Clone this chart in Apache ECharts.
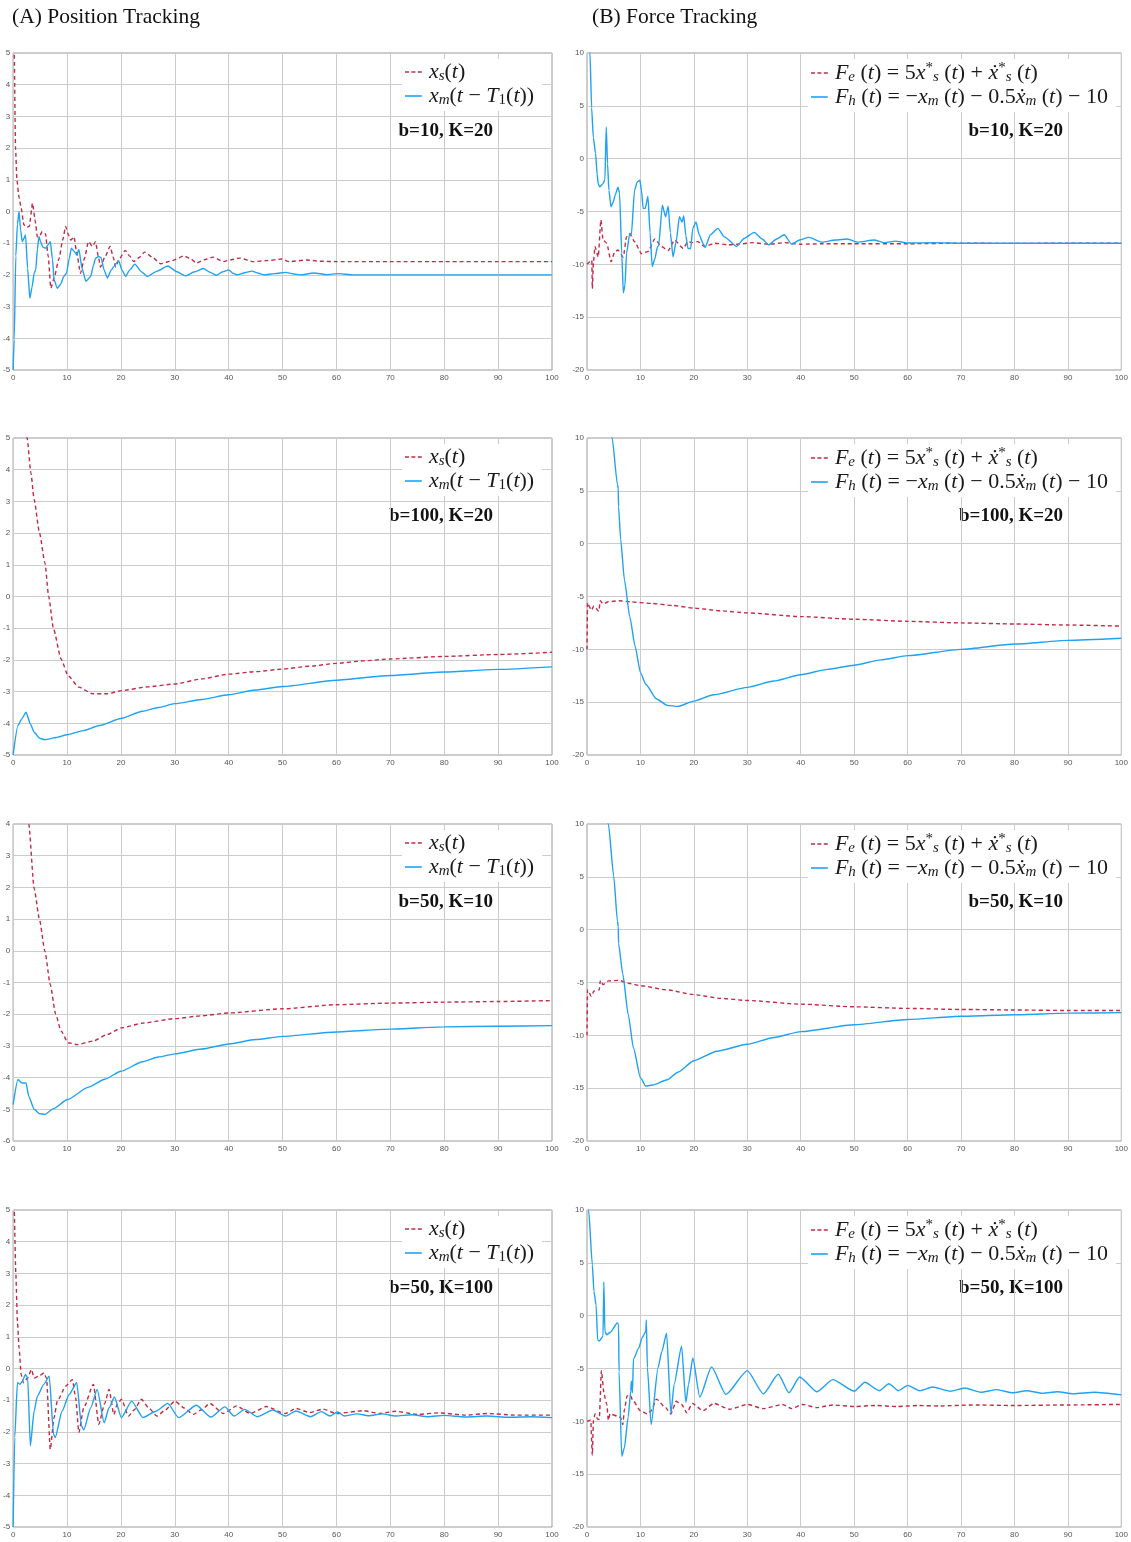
<!DOCTYPE html>
<html>
<head>
<meta charset="utf-8">
<title>Position and Force Tracking</title>
<script src="https://cdn.jsdelivr.net/npm/echarts@6/dist/echarts.min.js"></script>
<style>
  html, body { margin: 0; padding: 0; background: #fff; }
  #chart { width: 1131px; height: 1542px; }
</style>
</head>
<body>
<div id="chart"></div>
<script>
// ---- data: [t, value] ----
const xRange = [0, 100, 10];

// (A) position tracking
const pos1Xs = [[0,5.6],[0.2,5.0],[0.45,2.0],[0.7,1.0],[1.1,0.45],[1.5,0.1],[2,-0.42],[2.5,-0.5],[3,-0.47],[3.6,0.26],[4.1,-0.3],[4.5,-0.8],[5,-0.75],[5.4,-0.63],[6,-0.7],[6.5,-1.4],[7,-2.42],[7.6,-2.1],[8.5,-1.5],[9.2,-0.9],[9.75,-0.47],[10.3,-0.75],[10.7,-0.9],[11.3,-0.8],[11.8,-1.3],[12.5,-1.95],[13.2,-1.5],[14,-0.95],[14.7,-1.1],[15.3,-0.95],[15.8,-1.4],[16.2,-1.75],[17,-1.45],[18,-1.1],[18.6,-1.45],[19,-1.75],[19.7,-1.5],[20.8,-1.23],[21.6,-1.4],[22.4,-1.58],[23.4,-1.45],[24.4,-1.28],[25.9,-1.45],[27.4,-1.65],[29.5,-1.55],[31.7,-1.4],[33,-1.5],[34,-1.63],[35.5,-1.52],[37.1,-1.44],[39,-1.58],[40.5,-1.52],[42,-1.47],[44.6,-1.58],[47,-1.55],[49.9,-1.5],[51.2,-1.58],[54.5,-1.53],[57,-1.57],[60,-1.58],[70,-1.58],[80,-1.58],[90,-1.58],[100,-1.58]];
const pos1Xm = [[0,-5],[0.2,-4.05],[0.5,-1.4],[0.8,-0.4],[1.1,0],[1.4,-0.6],[1.7,-0.95],[2.0,-0.85],[2.3,-0.74],[2.7,-1.8],[3.1,-2.74],[3.5,-2.4],[3.9,-1.95],[4.2,-1.84],[4.5,-1.2],[4.8,-0.79],[5.1,-0.95],[5.5,-1.12],[6,-1.16],[6.5,-1.05],[6.9,-0.95],[7.3,-1.5],[7.6,-2.16],[8.2,-2.42],[8.8,-2.3],[9.4,-2.05],[9.9,-1.95],[10.4,-1.5],[10.8,-1.16],[11.3,-1.25],[11.8,-1.37],[12.2,-1.2],[12.8,-1.8],[13.5,-2.2],[14.4,-2.05],[14.9,-1.7],[15.3,-1.47],[15.9,-1.42],[16.3,-1.45],[16.9,-1.85],[17.5,-2.1],[18.2,-1.85],[18.7,-1.74],[19.3,-1.6],[19.6,-1.56],[20.2,-1.85],[20.9,-2.05],[21.6,-1.85],[22.6,-1.66],[23.8,-1.9],[24.9,-2.05],[26.7,-1.88],[28.7,-1.72],[30.4,-1.9],[32,-2.03],[33.7,-1.9],[35.3,-1.8],[36.6,-1.92],[37.7,-2.01],[38.9,-1.9],[40,-1.84],[40.8,-1.95],[41.6,-2.0],[43,-1.93],[44.3,-1.88],[45.5,-1.95],[46.6,-2.0],[48.5,-1.96],[50.6,-1.92],[52,-1.97],[53.2,-2.0],[55.9,-1.94],[58,-1.99],[60.5,-1.96],[63,-2.0],[70,-2.0],[80,-2.0],[90,-2.0],[100,-2.0]];

const pos2Xs = [[0,9],[2.6,5],[3.3,3.9],[3.9,3.06],[4.9,2.0],[5.9,1.07],[6.6,0],[7.5,-1.03],[8.9,-1.97],[10.2,-2.5],[12.2,-2.86],[14.8,-3.07],[17.5,-3.07],[20.1,-2.97],[25,-2.85],[30,-2.76],[35,-2.6],[40,-2.45],[45,-2.37],[50,-2.29],[55,-2.2],[60,-2.11],[65,-2.03],[70,-1.97],[80,-1.89],[90,-1.83],[100,-1.76]];
const pos2Xm = [[0,-5],[0.9,-4.07],[1.6,-3.86],[2.4,-3.65],[3.2,-4.02],[3.9,-4.28],[4.9,-4.47],[5.9,-4.52],[8,-4.45],[10,-4.36],[13,-4.23],[16,-4.07],[20,-3.85],[24,-3.62],[27,-3.5],[30,-3.38],[35,-3.25],[40,-3.1],[45,-2.95],[50,-2.84],[60,-2.64],[70,-2.49],[80,-2.38],[90,-2.3],[100,-2.22]];

const pos3Xs = [[0,9.5],[2.9,4],[3.9,1.97],[4.9,0.98],[5.9,-0.02],[6.9,-1.07],[7.9,-2.0],[8.9,-2.53],[10.2,-2.9],[11.9,-2.96],[14.8,-2.85],[17.5,-2.64],[20.1,-2.43],[24.1,-2.28],[30,-2.14],[35,-2.05],[40,-1.96],[50,-1.83],[60,-1.7],[70,-1.65],[80,-1.62],[90,-1.6],[100,-1.57]];
const pos3Xm = [[0,-4.85],[0.9,-4.06],[1.6,-4.17],[2.4,-4.17],[2.9,-4.59],[3.9,-5.0],[4.9,-5.14],[5.9,-5.16],[7.5,-4.98],[10,-4.7],[14,-4.3],[17,-4.05],[20,-3.8],[24,-3.5],[27,-3.35],[30,-3.25],[35,-3.1],[40,-2.94],[45,-2.8],[50,-2.7],[60,-2.56],[70,-2.47],[80,-2.4],[90,-2.38],[100,-2.36]];

const pos4Xs = [[0,5.6],[0.2,5],[0.5,3],[0.8,1.5],[1.1,0.65],[1.5,-0.19],[1.9,-0.45],[2.7,-0.3],[3.4,-0.03],[3.9,-0.3],[4.8,-0.24],[5.7,-0.14],[6.2,-0.3],[6.9,-2.55],[7.6,-1.55],[8.2,-1.03],[9.75,-0.56],[11,-0.35],[11.6,-0.92],[12.2,-2.02],[13.1,-1.24],[14.9,-0.5],[15.9,-1.76],[17,-1.1],[17.8,-0.66],[18.7,-1.45],[19.3,-1.13],[20.1,-0.97],[21.4,-1.5],[22.5,-1.3],[23.8,-0.97],[25.2,-1.25],[26.7,-1.5],[28.3,-1.3],[30,-1.03],[31.8,-1.25],[33.4,-1.45],[35,-1.3],[36.5,-1.1],[39,-1.42],[41.5,-1.18],[44,-1.42],[47,-1.2],[50.5,-1.42],[52.5,-1.26],[55,-1.39],[57.5,-1.28],[60,-1.42],[65,-1.33],[68,-1.42],[71,-1.35],[75,-1.45],[79,-1.4],[84,-1.47],[88,-1.42],[93,-1.47],[100,-1.47]];
const pos4Xm = [[0,-5],[0.3,-2.17],[0.8,-0.45],[1.3,-0.5],[1.7,-0.4],[2.3,-0.19],[2.7,-0.3],[3.2,-2.44],[3.9,-1.34],[4.5,-0.87],[5.7,-0.5],[6.7,-0.24],[7.5,-2.07],[7.8,-2.18],[9.1,-1.34],[10.4,-0.82],[11.8,-0.45],[12.7,-1.81],[13.1,-1.94],[14.4,-1.24],[15.6,-0.66],[16.9,-1.71],[17.8,-1.24],[18.8,-0.9],[20.1,-1.55],[22,-1.03],[24.1,-1.55],[26.5,-1.35],[28.7,-1.1],[30.7,-1.55],[34,-1.16],[36.7,-1.53],[39.3,-1.21],[41,-1.5],[43,-1.29],[45.3,-1.52],[48.2,-1.31],[50.6,-1.5],[52.5,-1.34],[55.2,-1.52],[57.2,-1.36],[58.8,-1.5],[60.2,-1.37],[61.5,-1.5],[63.8,-1.43],[66,-1.49],[68.5,-1.43],[71,-1.5],[74,-1.46],[77,-1.52],[80,-1.48],[84,-1.53],[88,-1.5],[92,-1.54],[96,-1.52],[100,-1.55]];

// (B) force tracking
const frc1Fe = [[0,-10],[0.55,-9.75],[0.9,-9.6],[1.0,-12.3],[1.2,-9.8],[1.5,-8.3],[2.1,-9.3],[2.6,-5.8],[3.0,-7.7],[3.7,-8.0],[4.5,-9.75],[5.2,-8.8],[5.8,-8.65],[6.8,-9.3],[7.4,-7.4],[8.0,-7.1],[8.9,-7.85],[10.2,-9.0],[11.4,-8.8],[12.7,-7.6],[13.9,-8.3],[15.2,-8.7],[16.4,-7.7],[18,-8.5],[18.9,-7.85],[19.8,-7.95],[20.7,-7.85],[22,-8.3],[23.9,-8.0],[26.3,-8.15],[28.2,-8.1],[31,-7.95],[34,-8.1],[37,-7.95],[40,-8.1],[44,-8.05],[50,-8.05],[60,-8.05],[70,-8.0],[80,-8.02],[90,-8.0],[100,-8.0]];
const frc1Fh = [[0,14],[0.55,10],[0.87,4.8],[1.18,2.0],[1.6,0.5],[1.9,-1.5],[2.1,-2.4],[2.4,-2.67],[3.0,-2.36],[3.35,-2.0],[3.6,3.0],[3.85,-0.5],[4.1,-3.0],[4.5,-4.56],[4.9,-4.1],[5.3,-3.4],[5.8,-2.7],[6.1,-3.3],[6.5,-9],[6.8,-12.7],[7.1,-12.0],[7.4,-8.96],[8.0,-7.07],[8.3,-7.2],[8.9,-3.0],[9.4,-2.2],[9.9,-2.04],[10.2,-3],[10.5,-4.7],[10.9,-4.7],[11.4,-3.55],[11.8,-7],[12.2,-10.2],[12.7,-9.5],[13.2,-8.3],[13.4,-8.25],[14.1,-4.4],[14.7,-5.5],[15.2,-4.5],[15.6,-7],[16.1,-9.3],[16.7,-7.8],[17.3,-5.5],[17.8,-6.0],[18.1,-5.4],[18.5,-7.3],[18.9,-8.5],[19.4,-8.5],[19.8,-6.6],[20.4,-6.0],[21,-7.2],[21.7,-8.0],[22.1,-8.4],[23.1,-7.2],[24.5,-6.6],[25.7,-7.4],[28,-8.3],[29.4,-7.55],[31.3,-6.98],[32.8,-7.6],[34,-8.15],[35.5,-7.6],[36.9,-7.2],[38.3,-8.1],[39.8,-7.7],[41.5,-7.45],[44,-7.9],[46.5,-7.7],[48.7,-7.6],[50.7,-7.9],[53.7,-7.7],[55.7,-7.95],[57.7,-7.8],[60,-7.98],[65,-7.95],[70,-8.0],[80,-8.0],[90,-8.0],[100,-8.0]];

const frc2Fe = [[0,-10],[0.1,-5.6],[0.8,-6.3],[1.3,-5.9],[2.2,-6.4],[2.5,-5.4],[3,-5.7],[4,-5.5],[6,-5.4],[8,-5.5],[12,-5.65],[16,-5.85],[20,-6.1],[25,-6.35],[30,-6.55],[40,-6.9],[50,-7.15],[60,-7.35],[70,-7.5],[80,-7.6],[90,-7.7],[100,-7.8]];
const frc2Fh = [[0,30],[4.7,10],[5.7,5.6],[5.85,5.2],[5.9,3.5],[6.3,0.4],[7,-3.4],[8,-6.9],[9,-9.7],[10,-12.2],[11,-13.3],[13,-14.7],[15,-15.3],[17,-15.4],[20,-14.9],[23.7,-14.3],[30,-13.6],[35,-13.0],[40,-12.4],[45,-11.9],[50,-11.5],[55,-11.0],[60,-10.6],[70,-10.0],[80,-9.5],[90,-9.15],[100,-8.95]];

const frc3Fe = [[0,-10],[0.1,-5.7],[0.8,-6.3],[1.3,-5.8],[2.3,-5.7],[2.5,-4.8],[3,-5.2],[4,-4.85],[6,-4.8],[8,-5.1],[10,-5.3],[15,-5.7],[20,-6.15],[25,-6.5],[30,-6.7],[40,-7.05],[50,-7.3],[60,-7.45],[70,-7.55],[80,-7.6],[90,-7.65],[100,-7.65]];
const frc3Fh = [[0,25],[4,10],[5,5.05],[5.7,0.8],[5.85,0.3],[5.9,-1.3],[6.7,-4.2],[7.7,-8.0],[8.7,-11.2],[10,-14.0],[11,-14.8],[12.3,-14.7],[15,-14.2],[17,-13.5],[20,-12.4],[24.3,-11.5],[30,-10.85],[35,-10.2],[40,-9.65],[50,-9.0],[60,-8.5],[70,-8.2],[80,-8.05],[90,-7.9],[100,-7.85]];

const frc4Fe = [[0,-10],[0.7,-9.9],[1,-13.2],[1.2,-9.9],[1.5,-9.3],[2,-9.8],[2.3,-9.8],[2.7,-5.2],[3.2,-7.45],[3.7,-8.4],[4,-9.9],[4.3,-9.3],[5.7,-9.5],[6.3,-9.65],[6.7,-10.3],[7,-8.9],[7.5,-7.6],[8,-7.5],[8.7,-8.1],[10,-9.0],[11.3,-9.3],[12,-9.0],[13,-7.9],[14.7,-8.7],[15.7,-9.3],[16.7,-8.1],[17.7,-8.4],[18.7,-9.2],[19.7,-8.3],[21.7,-9.0],[23.7,-8.3],[26.7,-8.85],[30,-8.4],[33,-8.8],[36.6,-8.4],[38.3,-8.8],[40.3,-8.4],[43,-8.7],[46,-8.45],[50,-8.6],[54,-8.5],[58,-8.6],[62,-8.5],[66,-8.55],[72,-8.45],[80,-8.5],[90,-8.45],[100,-8.4]];
const frc4Fh = [[0,13],[0.3,10],[1,4.8],[1.3,2.3],[1.7,1.0],[2,-2.3],[2.3,-2.4],[3,-1.95],[3.15,3.2],[3.35,-1.5],[3.7,-1.8],[4.3,-1.6],[5.7,-0.7],[5.9,-0.8],[6.0,-5.3],[6.5,-13.3],[7,-12.5],[7.7,-9.6],[8.2,-7.1],[8.3,-6.2],[8.5,-7.3],[8.7,-4.1],[9.7,-3.05],[10.3,-2.1],[11,-1.5],[11.1,-0.4],[11.3,-4.9],[12,-10.3],[13.3,-4.9],[14,-3.4],[14.9,-1.65],[15.7,-9.3],[16.3,-6.5],[17.7,-2.9],[18.5,-8.2],[19,-6.5],[19.8,-4.0],[21.1,-7.7],[23.3,-4.85],[26,-7.45],[30,-5.2],[33,-7.4],[35.8,-5.55],[37.8,-7.3],[39.8,-5.8],[43,-7.2],[46,-6.05],[50,-7.15],[52,-6.3],[54.7,-7.1],[56.5,-6.45],[58.3,-7.1],[60,-6.6],[62.3,-7.1],[64.7,-6.75],[68,-7.15],[70.7,-6.85],[73.7,-7.25],[76.7,-7.0],[79.7,-7.3],[82.3,-7.1],[85.3,-7.35],[88,-7.2],[91,-7.4],[95,-7.25],[100,-7.5]];

const posLabels = ['b=10, K=20', 'b=100, K=20', 'b=50, K=10', 'b=50, K=100'];
const posRanges = [[-5, 5, 1], [-5, 5, 1], [-6, 4, 1], [-5, 5, 1]];
const frcRange = [-20, 10, 5];

// ---- layout ----
const RED = '#c22b45';
const BLUE = '#1ea2f4';
const SERIF = '"Liberation Serif", "DejaVu Serif", serif';
const rowTop = [53, 438, 824, 1210];
const plotH = 317;
const colLeft = [12, 587];
const colW = [540, 535];

// legend icons: dashed and solid strokes as thin filled bars
const DASH_ICON = 'path://M0,0h5v2h-5zM8,0h5v2h-5zM16,0h5v2h-5z';
const SOLID_ICON = 'path://M0,0h21v2h-21z';

const panels = [];
for (let r = 0; r < 4; r++) {
  panels.push({ col: 0, row: r, label: posLabels[r], range: posRanges[r],
    names: ['xs', 'xm'], data: [[pos1Xs, pos2Xs, pos3Xs, pos4Xs][r], [pos1Xm, pos2Xm, pos3Xm, pos4Xm][r]] });
  panels.push({ col: 1, row: r, label: posLabels[r], range: frcRange,
    names: ['Fe', 'Fh'], data: [[frc1Fe, frc2Fe, frc3Fe, frc4Fe][r], [frc1Fh, frc2Fh, frc3Fh, frc4Fh][r]] });
}

const legendText = {
  xs: '{i|x}{sb|s}{r|(}{i|t}{r|)}',
  xm: '{i|x}{sb|m}{r|(}{i|t}{r| \u2212 }{i|T}{sn|1}{r|(}{i|t}{r|))}',
  Fe: '{i|F}{sb|e}{r| (}{i|t}{r|) = 5}{i|x}{sp|*}{sb|s}{r| (}{i|t}{r|) + }{i|\u1E8B}{sp|*}{sb|s}{r| (}{i|t}{r|)}',
  Fh: '{i|F}{sb|h}{r| (}{i|t}{r|) = \u2212}{i|x}{sb|m}{r| (}{i|t}{r|) \u2212 0.5}{i|\u1E8B}{sb|m}{r| (}{i|t}{r|) \u2212 10}'
};
const FS = 22;
const rich = {
  i: { fontFamily: SERIF, fontStyle: 'italic', fontSize: FS, lineHeight: 24, color: '#1a1a1a' },
  r: { fontFamily: SERIF, fontSize: FS, lineHeight: 24, color: '#1a1a1a' },
  sb: { fontFamily: SERIF, fontStyle: 'italic', fontSize: 15, lineHeight: 10, verticalAlign: 'bottom', color: '#1a1a1a' },
  sn: { fontFamily: SERIF, fontSize: 15, lineHeight: 10, verticalAlign: 'bottom', color: '#1a1a1a' },
  sp: { fontFamily: SERIF, fontSize: 15, lineHeight: 10, verticalAlign: 'top', color: '#1a1a1a' }
};

const grid = [], xAxis = [], yAxis = [], series = [], legend = [], graphic = [];

graphic.push({ type: 'text', x: 12, y: 17, style: { text: '(A) Position Tracking', fontFamily: SERIF, fontSize: 21.5, fill: '#111', verticalAlign: 'middle' } });
graphic.push({ type: 'text', x: 592, y: 17, style: { text: '(B) Force Tracking', fontFamily: SERIF, fontSize: 21.5, fill: '#111', verticalAlign: 'middle' } });

panels.forEach((p, k) => {
  const top = rowTop[p.row];
  grid.push({ left: colLeft[p.col], top: top, width: colW[p.col], height: plotH,
    show: true, borderColor: '#9a9a9a', borderWidth: 1, backgroundColor: '#fff' });
  xAxis.push({
    type: 'value', gridIndex: k, min: xRange[0], max: xRange[1], interval: xRange[2],
    axisLine: { show: false }, axisTick: { show: false },
    axisLabel: { fontSize: 8, color: '#555', margin: 4 },
    splitLine: { show: true, lineStyle: { color: '#cccccc', width: 1 } }
  });
  yAxis.push({
    type: 'value', gridIndex: k, min: p.range[0], max: p.range[1], interval: p.range[2],
    axisLine: { show: false }, axisTick: { show: false },
    axisLabel: { fontSize: 8, color: '#555', margin: 3 },
    splitLine: { show: true, lineStyle: { color: '#cccccc', width: 1 } }
  });
  series.push({
    type: 'line', name: p.names[0], xAxisIndex: k, yAxisIndex: k, data: p.data[0],
    symbol: 'none', smooth: 0.2, smoothMonotone: 'x', clip: true,
    lineStyle: { color: RED, width: 1.4, type: [4, 3] }, itemStyle: { color: RED }
  });
  series.push({
    type: 'line', name: p.names[1], xAxisIndex: k, yAxisIndex: k, data: p.data[1],
    symbol: 'none', smooth: 0.2, smoothMonotone: 'x', clip: true,
    lineStyle: { color: BLUE, width: 1.4 }, itemStyle: { color: BLUE }
  });
  legend.push({
    left: p.col === 0 ? 402 : 808, top: top + 6,
    orient: 'vertical', itemGap: 1, itemWidth: 21, itemHeight: 1.6,
    padding: [2, 8, 3, 3], backgroundColor: '#fff', selectedMode: false,
    data: [{ name: p.names[0], icon: DASH_ICON }, { name: p.names[1], icon: SOLID_ICON }],
    formatter: function (name) { return legendText[name]; },
    textStyle: { fontFamily: SERIF, fontSize: FS, color: '#1a1a1a', rich: rich }
  });
  graphic.push({
    type: 'text', x: p.col === 0 ? 493 : 1063, y: top + 78,
    style: { text: p.label, fontFamily: SERIF, fontWeight: 'bold', fontSize: 19, fill: '#111', align: 'right', verticalAlign: 'middle' }
  });
});

const chart = echarts.init(document.getElementById('chart'), null, { renderer: 'canvas' });
chart.setOption({
  animation: false,
  backgroundColor: '#fff',
  grid: grid, xAxis: xAxis, yAxis: yAxis, series: series, legend: legend, graphic: graphic
});
</script>
</body>
</html>
